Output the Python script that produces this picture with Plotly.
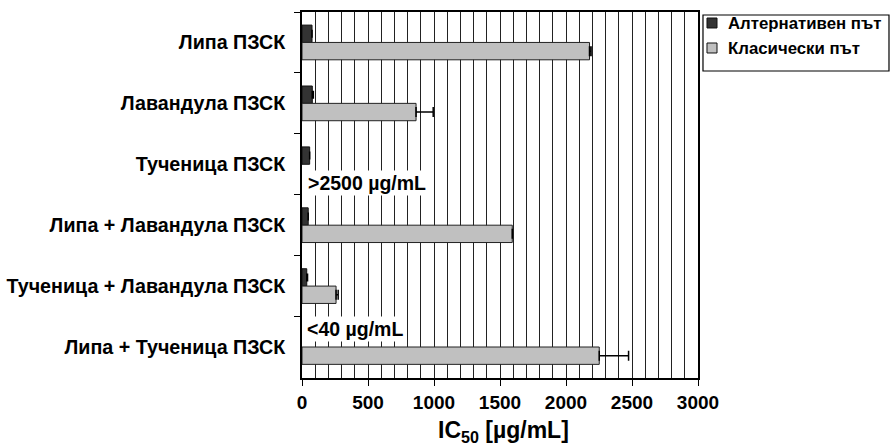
import plotly.graph_objects as go

categories = ["Липа ПЗСК", "Лавандула ПЗСК", "Тученица ПЗСК",
              "Липа + Лавандула ПЗСК", "Тученица + Лавандула ПЗСК",
              "Липа + Тученица ПЗСК"]
alt_values = [76, 78, 58, 47, 36, None]
alt_errors = [0, 8, 0, 0, 6, 0]
classic_values = [2178, 864, None, 1593, 258, 2252]
classic_errors = [12, 130, 0, 0, 16, 222]
series_names = ["Алтернативен път", "Класически път"]
series_colors = ["#333333", "#c0c0c0"]
x_ticks = [0, 500, 1000, 1500, 2000, 2500, 3000]

FONT = "Liberation Sans, Arial, sans-serif"

fig = go.Figure()
fig.add_trace(go.Bar(
    y=categories, x=alt_values, orientation="h", name=series_names[0],
    marker=dict(color=series_colors[0], line=dict(color="#111111", width=1)),
    error_x=dict(type="data", symmetric=False, array=alt_errors,
                 arrayminus=[0] * len(alt_errors),
                 color="#000000", thickness=1.5, width=4),
))
fig.add_trace(go.Bar(
    y=categories, x=classic_values, orientation="h", name=series_names[1],
    marker=dict(color=series_colors[1], line=dict(color="#222222", width=1)),
    error_x=dict(type="data", symmetric=False, array=classic_errors,
                 arrayminus=[0] * len(classic_errors),
                 color="#000000", thickness=1.5, width=5),
))

fig.add_annotation(x=28, y=categories[2], yshift=-19, xanchor="left", yanchor="middle",
                   text=">2500 µg/mL", showarrow=False, bgcolor="white",
                   font=dict(family=FONT, size=19.5, color="black", weight="bold"))
fig.add_annotation(x=22, y=categories[5], yshift=18, xanchor="left", yanchor="middle",
                   text="<40 µg/mL", showarrow=False, bgcolor="white",
                   font=dict(family=FONT, size=19.5, color="black", weight="bold"))

# axis title
fig.add_annotation(x=0.51, y=-0.145, xref="paper", yref="paper", xanchor="center",
                   yanchor="middle", showarrow=False,
                   text="IC<sub>50</sub> [µg/mL]",
                   font=dict(family=FONT, size=23, color="black", weight="bold"))

# legend drawn manually (box, swatches, texts)
fig.add_shape(type="rect", xref="paper", yref="paper", x0=1.0126, x1=1.4823,
              y0=0.8388, y1=0.9918, line=dict(color="black", width=1.2),
              fillcolor="white")
sw_y = [(0.9836, 0.9563), (0.9153, 0.888)]
txt_y = [0.9686, 0.9003]
for i in range(2):
    fig.add_shape(type="rect", xref="paper", yref="paper", x0=1.0227, x1=1.048,
                  y0=sw_y[i][1], y1=sw_y[i][0],
                  line=dict(color="#111111", width=1), fillcolor=series_colors[i])
    fig.add_annotation(x=1.0705, y=txt_y[i], xref="paper", yref="paper",
                       xanchor="left", yanchor="middle", showarrow=False,
                       text=series_names[i],
                       font=dict(family=FONT, size=16.8, color="black", weight="bold"))

fig.update_layout(
    width=891, height=445,
    margin=dict(l=302, r=193, t=12, b=67),
    paper_bgcolor="white", plot_bgcolor="white",
    barmode="group", bargap=0.43, bargroupgap=0,
    font=dict(family=FONT, color="black"),
    showlegend=False,
)
fig.update_xaxes(
    range=[0, 3000], tickvals=x_ticks, ticktext=[str(v) for v in x_ticks],
    showgrid=True, gridcolor="#222222", gridwidth=1,
    minor=dict(dtick=100, showgrid=True, gridcolor="#222222", gridwidth=1),
    showline=True, linecolor="black", linewidth=1.5, mirror=True,
    ticks="outside", ticklen=6, tickcolor="black",
    tickfont=dict(family=FONT, size=19, color="black", weight="bold"),
    zeroline=False, automargin=False,
)
fig.update_yaxes(
    autorange="reversed", categoryorder="array", categoryarray=categories,
    tickson="boundaries", ticks="outside", ticklen=6, tickcolor="black",
    showline=True, linecolor="black", linewidth=1.5, mirror=True,
    showgrid=False, automargin=False, ticklabelstandoff=11,
    tickfont=dict(family=FONT, size=19.7, color="black", weight="bold"),
)

fig.write_html("out.html", config={"displayModeBar": False},
               post_script="document.body.style.margin='0';document.body.style.overflow='hidden';")
